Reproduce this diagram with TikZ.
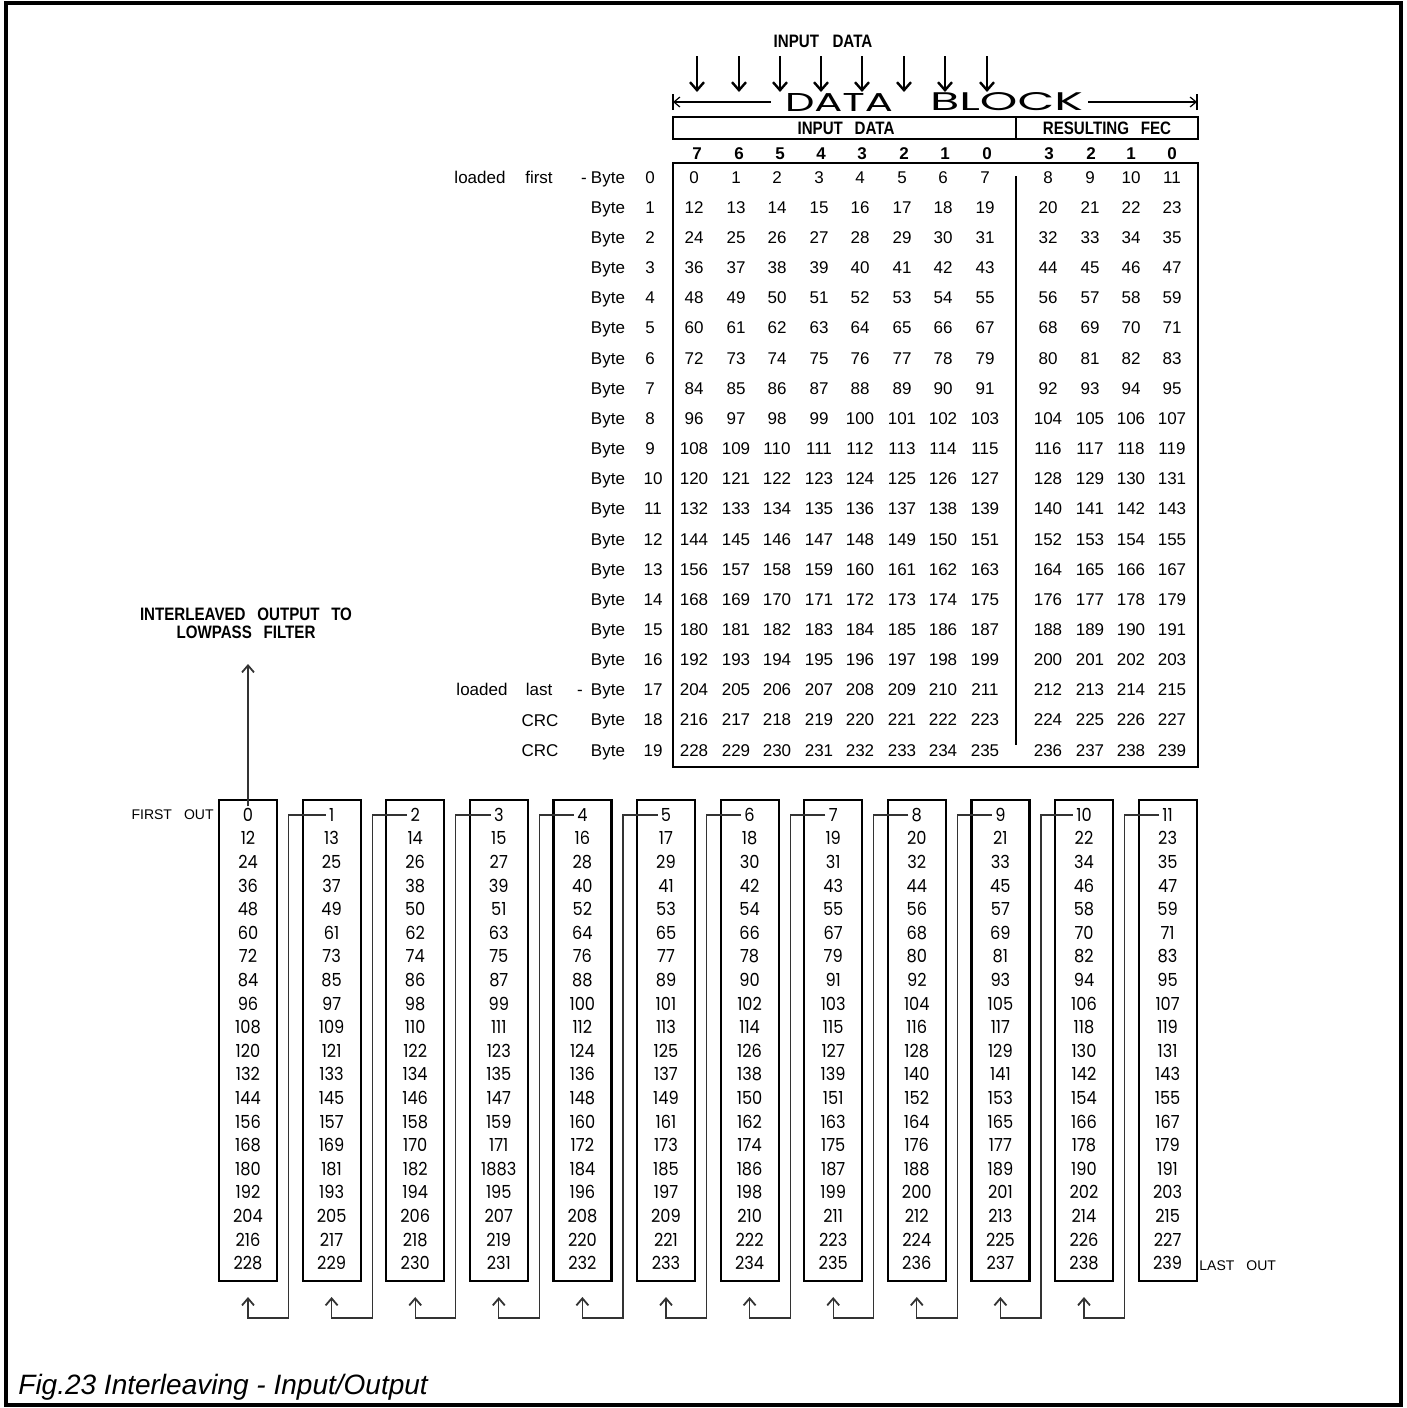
\documentclass[tikz,border=0pt]{standalone}
\usepackage{fontspec}
\usepackage{graphicx}
\setmainfont{Liberation Sans}
\newfontfamily\geofont{Poppins}
\usetikzlibrary{arrows.meta}
\newcommand\condtxt[1]{\scalebox{0.84}[1]{\bfseries #1}}
\begin{document}
\begin{tikzpicture}[x=0.5pt,y=-0.5pt,
  every node/.style={inner sep=0pt},
  num/.style={font=\fontsize{8.5}{10}\selectfont, text height=6.1pt, text depth=0pt},
  bnum/.style={font=\bfseries\fontsize{8.5}{10}\selectfont, text height=6.1pt, text depth=0pt},
  lbl/.style={font=\fontsize{8.5}{10}\selectfont, text height=6.1pt, text depth=0pt},
  hd/.style={font=\fontsize{9}{10}\selectfont, text height=6.4pt, text depth=0pt},
  smalltxt/.style={font=\fontsize{7}{8}\selectfont, text height=5pt, text depth=0pt},
  boxnum/.style={font=\geofont\fontsize{9}{10}\selectfont, text height=6.3pt, text depth=0pt},
  colbox/.style={draw, line width=1.1pt, minimum width=29pt, minimum height=240.5pt},
  tline/.style={line width=0.7pt},
  conn/.style={line width=0.6pt, draw=black!80},
  uptip/.style={-{Straight Barb[length=3.5pt,width=6pt,line width=0.9pt]}},
  downarr/.style={line width=1.2pt,-{Straight Barb[length=4pt,width=7pt,line width=1.2pt]}},
  dbtip/.style={line width=0.6pt},
]
\useasboundingbox (0,0) rectangle (1407,1408);
\draw[line width=2pt] (6,3) rectangle (1401,1405);

% top title and arrows
\node[hd] (intitle) at (823,41) {\condtxt{INPUT\hspace{8pt}DATA}};
\foreach \x [count=\i] in {697,739,780,821,862,904,945,987} {
  \coordinate (as\i) at (\x,56);
  \coordinate (ae\i) at (\x,92);
  \draw[downarr] (as\i) -- (ae\i);
}

% DATA BLOCK
\node[font=\geofont\fontsize{13}{14}\selectfont] (dbD) at (839,102) {\resizebox{54pt}{9pt}{DATA}};
\node[font=\geofont\fontsize{13}{14}\selectfont] (dbB) at (1006.5,102) {\resizebox{76.5pt}{9pt}{BLOCK}};
\coordinate (dbL) at (673,102);
\coordinate (dbl1) at (771,102);
\coordinate (dbr1) at (1088,102);
\coordinate (dbR) at (1197,102);
\draw[dbtip,{Straight Barb[length=3pt,width=5pt]}-] (dbL) -- (dbl1);
\draw[dbtip,-{Straight Barb[length=3pt,width=5pt]}] (dbr1) -- (dbR);
\draw[dbtip] ([yshift=-4pt]dbL) -- ([yshift=4pt]dbL);
\draw[dbtip] ([yshift=-4pt]dbR) -- ([yshift=4pt]dbR);

% header box
\draw[tline] (673,117) rectangle (1198,139);
\draw[tline] (1016,117) -- (1016,139);
\node[hd] (hin) at (846,128) {\condtxt{INPUT\hspace{7pt}DATA}};
\node[hd] (hfec) at (1107,128) {\condtxt{RESULTING\hspace{7pt}FEC}};

% column digits
\foreach \x/\t [count=\i] in {697/7,739/6,780/5,821/4,862/3,904/2,945/1,987/0,1049/3,1091/2,1131/1,1172/0}
  \node[bnum] (cd\i) at (\x,153) {\t};

% data box
\draw[tline] (673,163) rectangle (1198,767);
\draw[tline] (1016,176) -- (1016,745);

\def\colx{{694,736,777,819,860,902,943,985,1048,1090,1131,1172}}
\foreach \r in {0,...,19} {
  \pgfmathsetmacro\yy{177+30.16*\r}
  \foreach \c in {0,...,11} {
    \pgfmathsetmacro\xx{\colx[\c]}
    \pgfmathtruncatemacro\v{12*\r+\c}
    \node[num] (t\r-\c) at (\xx,\yy) {\v};
  }
  \node[lbl] (by\r) at (608,\yy) {Byte};
  \ifnum\r<10
    \node[lbl] (bn\r) at (650,\yy) {\r};
  \else
    \node[lbl] (bn\r) at (653,\yy) {\r};
  \fi
}
\node[lbl] (lf1) at (480,177) {loaded};
\node[lbl] (lf2) at (539,177) {first};
\node[lbl] (lf3) at (584,177) {-};
\node[lbl] (ll1) at (482,689.7) {loaded};
\node[lbl] (ll2) at (539,689.7) {last};
\node[lbl] (ll3) at (580,689.7) {-};
\node[lbl] (crc1) at (540,719.9) {CRC};
\node[lbl] (crc2) at (540,750) {CRC};

% output title
\node[hd] (io1) at (246,614) {\condtxt{INTERLEAVED\hspace{7pt}OUTPUT\hspace{7pt}TO}};
\node[hd] (io2) at (246,632) {\condtxt{LOWPASS\hspace{7pt}FILTER}};
\node[smalltxt,anchor=east] (fo) at (214,814) {FIRST\hspace{6pt}OUT};
\node[smalltxt,anchor=west] (lo) at (1199,1265) {LAST\hspace{6pt}OUT};

% output columns
\foreach \j in {0,...,11} {
  \pgfmathsetmacro\cx{248+83.6*\j}
  \node[colbox] (box\j) at (\cx,1040.5) {};
  \foreach \r in {0,...,19} {
    \pgfmathsetmacro\ry{815+23.6*\r}
    \pgfmathtruncatemacro\v{12*\r+\j}
    \ifnum\j=3 \ifnum\r=15 \def\v{1883}\fi\fi
    \node[boxnum] (b\j-\r) at (\cx,\ry) {\scalebox{0.9}[1]{\v}};
  }
}

% connectors
\foreach \j in {1,...,11} {
  \pgfmathtruncatemacro\k{\j-1}
  \pgfmathsetmacro\cx{248+83.6*\j}
  \pgfmathsetmacro\px{248+83.6*\k}
  \coordinate (v\j) at (\cx-43,1318);
  \coordinate (at\k) at (\px,1297);
  \draw[conn,uptip] ([xshift=-1.5pt]b\j-0.west) -| (v\j) -| (at\k);
}
\coordinate (outtip) at (248,664);
\draw[conn,uptip] ([yshift=1pt]b0-0.north) -- (outtip);

% caption
\node[anchor=base west,font=\itshape\fontsize{14}{16}\selectfont] (cap) at (18,1394) {Fig.23 Interleaving - Input/Output};
\end{tikzpicture}
\end{document}
